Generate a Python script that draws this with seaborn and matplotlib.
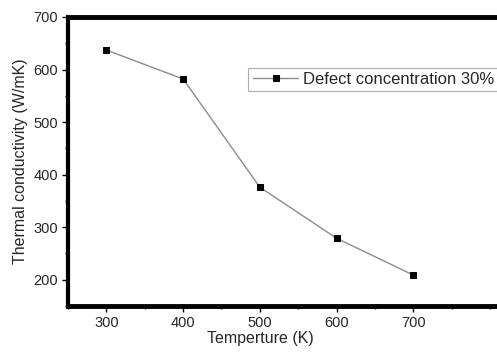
import matplotlib
matplotlib.use("Agg")
import matplotlib.pyplot as plt
import seaborn as sns
import pandas as pd
from matplotlib.ticker import MultipleLocator

# Data
temperature = [300, 400, 500, 600, 700]
conductivity = [637, 582, 376, 279, 209]
series_label = "Defect concentration 30%"

df = pd.DataFrame({"T": temperature, "k": conductivity})

sns.set_style("white")
plt.rcParams["font.family"] = ["Liberation Sans", "DejaVu Sans"]

fig = plt.figure(figsize=(4.97, 3.53), dpi=100)
ax = fig.add_axes([0.137, 0.133, 0.926, 0.819])

sns.lineplot(data=df, x="T", y="k", ax=ax, color="#8c8c8c", linewidth=1.0,
             marker="s", markersize=4.8, markerfacecolor="black",
             markeredgecolor="black", label=series_label)

ax.set_xlim(250, 850)
ax.set_ylim(150, 700)
ax.xaxis.set_major_locator(MultipleLocator(100))
ax.xaxis.set_minor_locator(MultipleLocator(50))
ax.yaxis.set_major_locator(MultipleLocator(100))
ax.yaxis.set_minor_locator(MultipleLocator(50))
ax.set_xticks([300, 400, 500, 600, 700])

ax.tick_params(which="major", direction="out", length=4, width=1, labelsize=10.5,
               bottom=True, left=True, color="black", pad=3)
ax.tick_params(which="minor", direction="out", length=2.5, width=1,
               bottom=True, left=True, color="black")

for side in ["left", "top", "bottom"]:
    ax.spines[side].set_color("black")
ax.spines["left"].set_linewidth(3)
ax.spines["top"].set_linewidth(3.5)
ax.spines["bottom"].set_linewidth(3.5)
ax.spines["right"].set_visible(False)

ax.set_xlabel("Temperture (K)", fontsize=11.5)
ax.set_ylabel("Thermal conductivity (W/mK)", fontsize=11.5)
ax.xaxis.set_label_coords(0.417, -0.085)

leg = ax.legend(loc="upper left", bbox_to_anchor=(0.392, 0.824), fontsize=12,
                frameon=True, fancybox=False, handlelength=2.75,
                borderpad=0.25, handletextpad=0.3, borderaxespad=0)
leg.get_frame().set_edgecolor("#999999")
leg.get_frame().set_linewidth(0.8)

plt.savefig("out.png", dpi=100)
